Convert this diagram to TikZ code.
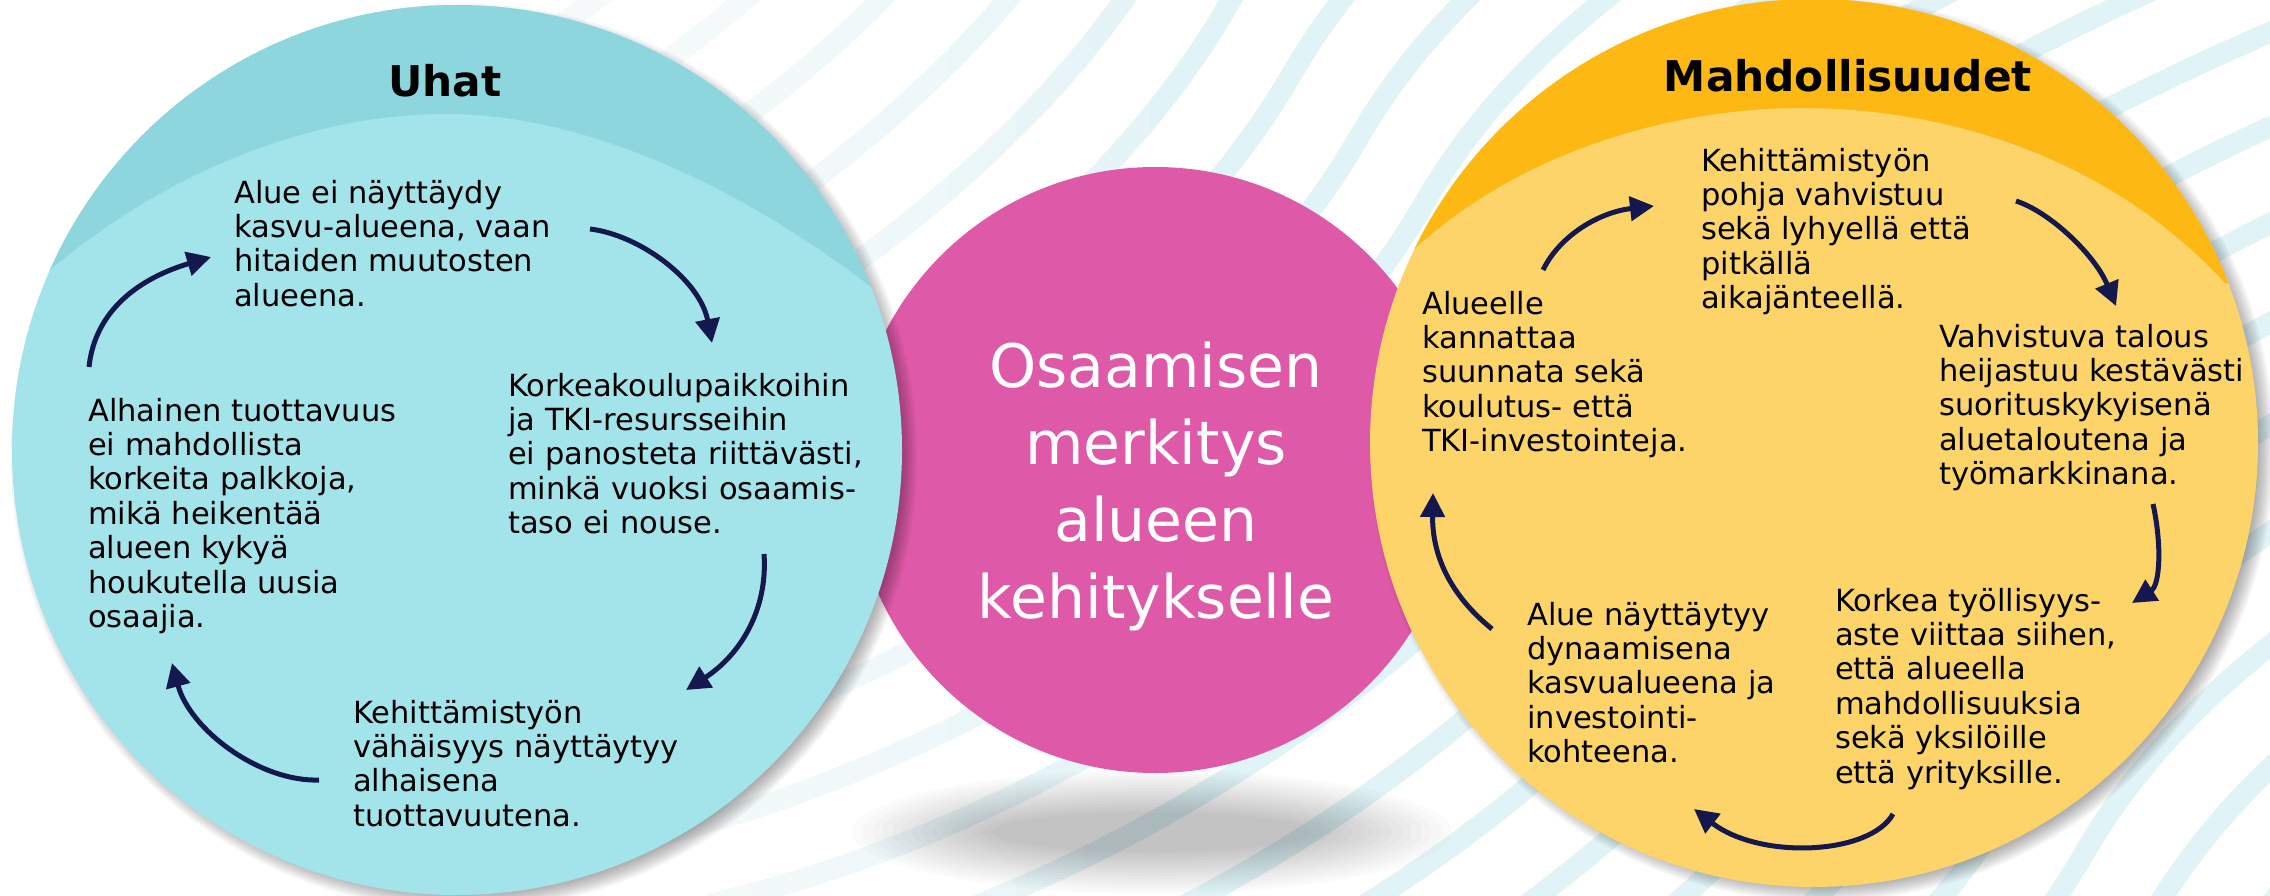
\documentclass[tikz,border=0pt]{standalone}
\usepackage{fontspec}
\setmainfont{DejaVu Sans}
\usetikzlibrary{arrows.meta}
\definecolor{cyanL}{HTML}{A3E3EA}
\definecolor{cyanD}{HTML}{8DD6DD}
\definecolor{pinkC}{HTML}{DE5AA8}
\definecolor{yellowL}{HTML}{FCD469}
\definecolor{orangeC}{HTML}{FDB813}
\definecolor{navy}{HTML}{15184F}
\definecolor{stripeC}{HTML}{E0F3F6}
\begin{document}
\begin{tikzpicture}[x=1pt,y=-1pt,
  txt/.style={anchor=base west, align=left, inner sep=0pt, text=black,
    font=\fontsize{30.5}{34.4}\selectfont},
  ttl/.style={anchor=base, inner sep=0pt, text=black,
    font=\bfseries\fontsize{42.3}{50}\selectfont},
  ctr/.style={anchor=base, align=center, inner sep=0pt, text=white,
    font=\fontsize{60}{77}\selectfont},
  arr/.style={draw=navy, line width=5pt, -{Triangle[length=24pt,width=24pt]}},
  stripe/.style={draw=stripeC, line width=21pt},
  shad/.style={fill=black, opacity=0.035}
]
\useasboundingbox (0,0) rectangle (2270,896);
\clip (0,0) rectangle (2270,896);
\fill[white] (0,0) rectangle (2270,896);

% background stripes (wavy S-shaped bands)
\foreach \k in {-15,...,12}{
  \draw[stripe, shift={({1623+66*\k},{397+65*\k})}]
    (-1600,774) -- (-800,560) .. controls (-500,480) and (-150,260) .. (0,0)
    .. controls (150,-260) and (500,-400) .. (800,-520) -- (1600,-840);
}
% fade the stripes out towards the left
\fill[white] (0,0) rectangle (480,896);
\foreach \i in {0,...,9}{
  \fill[white, opacity=0.16] (0,0) rectangle ({1150-67*\i},896);
}

% ground shadow under the pink circle
\coordinate (Gc) at (1152,832);
\foreach \i in {0,...,14}{
  \fill[black, opacity=0.016] (Gc) ellipse[x radius={300pt-10pt*\i}, y radius={62pt-3pt*\i}];
}

% circle centres
\coordinate (Lc) at (457,450);
\coordinate (Pc) at (1155,470);
\coordinate (Rc) at (1814,443);

% pink circle
\fill[pinkC] (Pc) circle[radius=303pt];

% left circle
\foreach \i in {0,...,9}{
  \fill[shad] ([shift={(7,7)}]Lc) circle[radius={437pt+1.8pt*\i}];
}
\fill[cyanL] (Lc) circle[radius=445pt];
\begin{scope}
  \clip (Lc) circle[radius=445pt];
  \fill[cyanD] (0,0) -- (0,270) -- (50,270)
    .. controls (180,160) and (330,112) .. (453,114)
    .. controls (600,116) and (760,200) .. (875,290)
    -- (910,290) -- (910,0) -- cycle;
\end{scope}

% right circle
\foreach \i in {0,...,9}{
  \fill[shad] ([shift={(8,6)}]Rc) circle[radius={436pt+1.8pt*\i}];
}
\fill[yellowL] (Rc) circle[radius=444pt];
\begin{scope}
  \clip (Rc) circle[radius=444pt];
  \fill[orangeC] (1360,0) -- (1360,255) -- (1408,255)
    .. controls (1520,148) and (1680,107) .. (1805,108)
    .. controls (1950,109) and (2110,158) .. (2225,283)
    -- (2270,283) -- (2270,0) -- cycle;
\end{scope}

% titles (anchor = baseline)
\node[ttl] (uhat) at (445,97) {Uhat};
\node[ttl] (mahd) at (1848,92) {Mahdollisuudet};
% multi-line nodes: anchor is the baseline of the LAST line
\node[ctr] (center) at (1156,618) {Osaamisen\\merkitys\\alueen\\kehitykselle};

% left circle texts
\node[txt] (t1) at (234,306.2) {Alue ei näyttäydy\\kasvu-alueena, vaan\\hitaiden muutosten\\alueena.};
\node[txt] (t2) at (508,533.6) {Korkeakoulupaikkoihin\\ja TKI-resursseihin\\ei panosteta riittävästi,\\minkä vuoksi osaamis-\\taso ei nouse.};
\node[txt] (t3) at (353,826.2) {Kehittämistyön\\vähäisyys näyttäytyy\\alhaisena\\tuottavuutena.};
\node[txt] (t4) at (88,627.4) {Alhainen tuottavuus\\ei mahdollista\\korkeita palkkoja,\\mikä heikentää\\alueen kykyä\\houkutella uusia\\osaajia.};

% right circle texts
\node[txt] (r1) at (1701,308.6) {Kehittämistyön\\pohja vahvistuu\\sekä lyhyellä että\\pitkällä\\aikajänteellä.};
\node[txt] (r2) at (1939,484.6) {Vahvistuva talous\\heijastuu kestävästi\\suorituskykyisenä\\aluetaloutena ja\\työmarkkinana.};
\node[txt] (r3) at (1835,783) {Korkea työllisyys-\\aste viittaa siihen,\\että alueella\\mahdollisuuksia\\sekä yksilöille\\että yrityksille.};
\node[txt] (r4) at (1527,762.6) {Alue näyttäytyy\\dynaamisena\\kasvualueena ja\\investointi-\\kohteena.};
\node[txt] (r5) at (1422,451.6) {Alueelle\\kannattaa\\suunnata sekä\\koulutus- että\\TKI-investointeja.};

% arrow end points, left cycle
\coordinate (a1s) at (89,367);   \coordinate (a1e) at (211,257);
\coordinate (a2s) at (590,229);  \coordinate (a2e) at (712,343);
\coordinate (a3s) at (764,554);  \coordinate (a3e) at (686,690);
\coordinate (a4s) at (319,780);  \coordinate (a4e) at (172,663);
\draw[arr] (a1s) .. controls (95,310) and (140,278) .. (a1e);
\draw[arr] (a2s) .. controls (640,235) and (700,280) .. (a2e);
\draw[arr] (a3s) .. controls (768,610) and (740,655) .. (a3e);
\draw[arr] (a4s) .. controls (260,782) and (190,730) .. (a4e);

% arrow end points, right cycle
\coordinate (b1s) at (1543,270); \coordinate (b1e) at (1654,206);
\coordinate (b2s) at (2016,201); \coordinate (b2e) at (2116,306);
\coordinate (b3s) at (2153,504); \coordinate (b3e) at (2132,603);
\coordinate (b4s) at (1893,814); \coordinate (b4e) at (1694,809);
\coordinate (b5s) at (1492,629); \coordinate (b5e) at (1433,493);
\draw[arr] (b1s) .. controls (1560,235) and (1600,212) .. (b1e);
\draw[arr] (b2s) .. controls (2050,212) and (2095,255) .. (b2e);
\draw[arr] (b3s) .. controls (2162,545) and (2160,585) .. (b3e);
\draw[arr] (b4s) .. controls (1870,855) and (1760,860) .. (b4e);
\draw[arr] (b5s) .. controls (1450,595) and (1432,555) .. (b5e);
\end{tikzpicture}
\end{document}
